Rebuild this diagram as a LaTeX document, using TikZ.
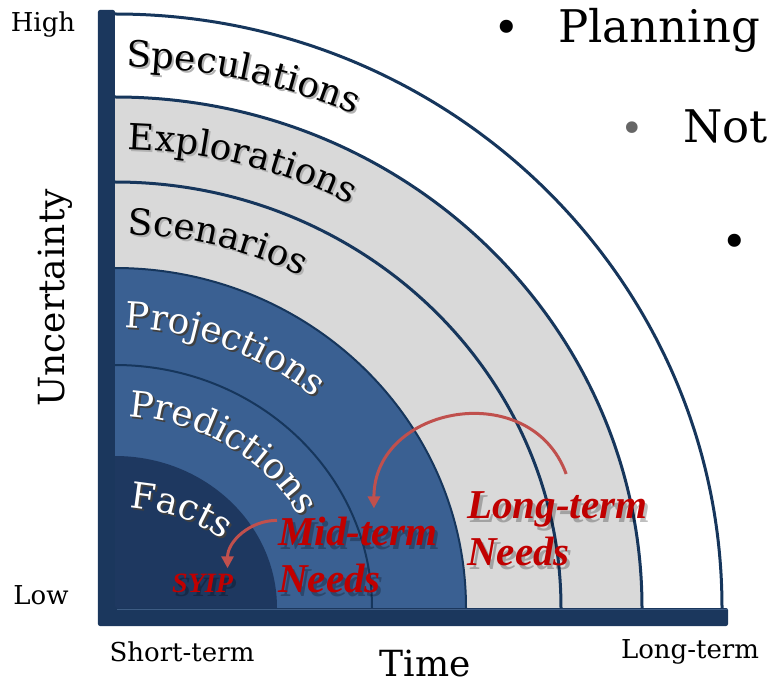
\documentclass[tikz,border=0pt]{standalone}
\usepackage{fontspec}
\setmainfont{DejaVu Serif}
\newfontfamily\needsfont{Liberation Serif}
\usetikzlibrary{arrows.meta,decorations.text,positioning}

\definecolor{framenavy}{RGB}{27,55,93}
\definecolor{framelight}{RGB}{62,92,132}
\definecolor{factsnavy}{RGB}{30,56,96}
\definecolor{bandblue}{RGB}{58,96,146}
\definecolor{bandgray}{RGB}{217,217,217}
\definecolor{arcnavy}{RGB}{22,54,92}
\definecolor{needsred}{RGB}{192,0,0}
\definecolor{arrowred}{RGB}{192,80,77}

% label bent along one band: x radius, y radius, start angle, colour, text
\newcommand{\bandlabel}[5]{%
  \path[decorate, decoration={text along path, text color=#4, text align=left,
      text={|\fontsize{36}{36}\selectfont|#5}}]
    (#3:#1 and #2) arc[start angle=#3, end angle=0, x radius=#1, y radius=#2];
}

\begin{document}
\begin{tikzpicture}[x=1pt, y=1pt,
    axislabel/.style={font=\fontsize{26}{30}\selectfont, inner sep=0pt},
    bigaxis/.style={font=\fontsize{36}{40}\selectfont, inner sep=0pt},
    bullettext/.style={font=\fontsize{45}{50}\selectfont, inner sep=0pt, anchor=base west},
    needs/.style={text=needsred, font=\needsfont\bfseries\itshape\fontsize{41}{47}\selectfont,
      align=left, inner sep=0pt, anchor=base west},
    needsshade/.style={needs, text=black, opacity=0.25},
    needsarrow/.style={arrowred, line width=3, -{Triangle[length=12, width=12]}}]
  \useasboundingbox (-115,-78) rectangle (653,608);

  % bands, outermost first
  \foreach \rx/\ry/\col in {607/594/white, 527/511/bandgray, 446/426/bandgray,
      351/340/bandblue, 257/243/bandblue, 162/152/factsnavy}
    \fill[\col] (0,0) -- (\rx,0) arc[start angle=0, end angle=90, x radius=\rx, y radius=\ry] -- cycle;
  \foreach \rx/\ry/\w in {607/594/3, 527/511/3, 446/426/3, 351/340/2, 257/243/2}
    \draw[arcnavy, line width=\w] (\rx,0) arc[start angle=0, end angle=90, x radius=\rx, y radius=\ry];

  % axes frame
  \fill[framenavy, rounded corners=2] (-17,598) -- (0,598) -- (0,0) -- (613,0)
    -- (613,-18) -- (-17,-18) -- cycle;
  \draw[framelight, line width=1] (2,-1.5) -- (613,-1.5);

  % band names
  \begin{scope}[shift={(2,-2)}]
    \bandlabel{585}{541}{88.9}{black!30}{Speculations}
    \bandlabel{495}{459}{88.5}{black!30}{Explorations}
    \bandlabel{405}{374}{88.2}{black!30}{Scenarios}
    \bandlabel{300}{280}{88.1}{black!75}{Projections}
    \bandlabel{210}{192}{86.3}{black!75}{Predictions}
    \bandlabel{145}{101}{84.1}{black!75}{Facts}
  \end{scope}
  \bandlabel{585}{541}{88.9}{black}{Speculations}
  \bandlabel{495}{459}{88.5}{black}{Explorations}
  \bandlabel{405}{374}{88.2}{black}{Scenarios}
  \bandlabel{300}{280}{88.1}{white}{Projections}
  \bandlabel{210}{192}{86.3}{white}{Predictions}
  \bandlabel{145}{101}{84.1}{white}{Facts}

  % axis texts
  \node[axislabel] (high) at (-72,583) {High};
  \node[axislabel] (low) at (-74,13) {Low};
  \node[bigaxis, rotate=90] (uncert) at (-60,310) {Uncertainty};
  \node[axislabel] (short) at (67,-44) {Short-term};
  \node[bigaxis] (time) at (310,-56) {Time};
  \node[axislabel] (long) at (575,-44) {Long-term};

  % bullets on the right
  \node[font=\fontsize{45}{50}\selectfont, inner sep=0pt] (dot1) at (392,576) {•};
  \node[bullettext] (planning) at (443,565) {Planning};
  \node[font=\fontsize{40}{50}\selectfont, inner sep=0pt, text=black!60] (dot2) at (517,476) {•};
  \node[bullettext] (not) at (568,465) {Not};
  \node[font=\fontsize{45}{50}\selectfont, inner sep=0pt] (dot3) at (620,362) {•};

  % needs
  \node[needsshade] (ltshade) at (355,39) {Long-term\\Needs};
  \node[needs] (lt) at (352,43) {Long-term\\Needs};
  \node[needsshade] (mtshade) at (166,12) {Mid-term\\Needs};
  \node[needs] (mt) at (163,16) {Mid-term\\Needs};
  \node[needsshade, font=\needsfont\bfseries\itshape\fontsize{28}{30}\selectfont] (syshade) at (60,12) {SYIP};
  \node[needs, font=\needsfont\bfseries\itshape\fontsize{28}{30}\selectfont] (sy) at (57,16) {SYIP};

  \draw[needsarrow] ([shift={(9,17)}]lt.north) to[out=110, in=90, looseness=1.35] ([shift={(16,8)}]mt.north);
  \draw[needsarrow] ([shift={(-1,-4)}]mt.north west) to[out=180, in=90] ([shift={(25,5)}]sy.north);
\end{tikzpicture}
\end{document}
